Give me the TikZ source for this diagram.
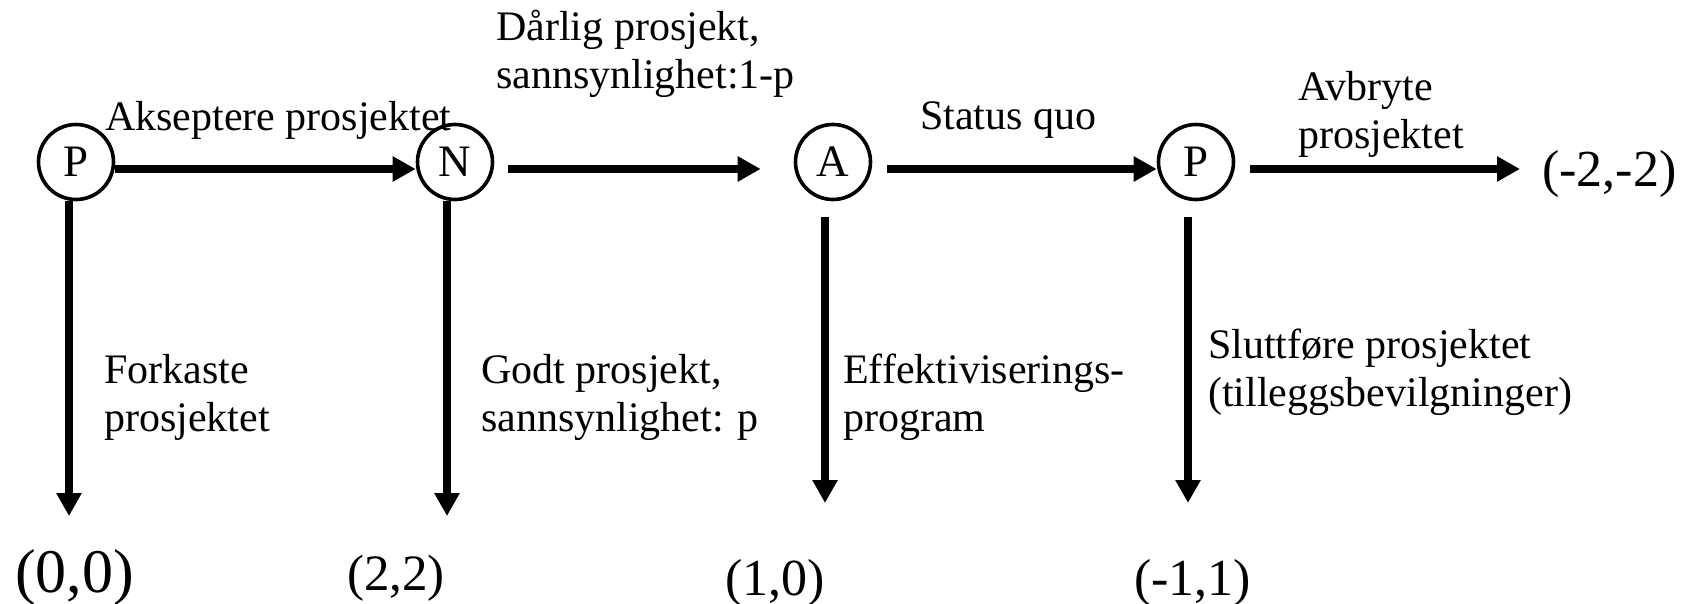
\documentclass[tikz,border=0pt]{standalone}
\usepackage{fontspec}
\setmainfont{Liberation Serif}
\usetikzlibrary{arrows.meta}
\begin{document}
\begin{tikzpicture}[x=1pt,y=-1pt,
  dec/.style={circle,draw,line width=3.6pt,minimum size=75pt,inner sep=0pt,font=\fontsize{45}{45}\selectfont},
  arr/.style={line width=7.5pt,-{Triangle[length=23pt,width=24pt]}},
  lbl/.style={anchor=base west,inner sep=0pt,align=left,font=\fontsize{42}{48}\selectfont},
  pay/.style={anchor=base west,inner sep=0pt}]
\useasboundingbox (0,0) rectangle (1690,604);
% decision nodes
\node[dec] (p1) at (76,162) {P};
\node[dec] (n) at (455,162) {N};
\node[dec] (a) at (833,162) {A};
\node[dec] (p2) at (1196,162) {P};
% payoffs
\node[pay,font=\fontsize{62}{62}\selectfont] (o1) at (15,592) {(0,0)};
\node[pay,font=\fontsize{51}{51}\selectfont] (o2) at (347,590) {(2,2)};
\node[pay,font=\fontsize{52}{52}\selectfont] (o3) at (725,595) {(1,0)};
\node[pay,font=\fontsize{52}{52}\selectfont] (o4) at (1134,595) {(-1,1)};
\node[pay,font=\fontsize{52}{52}\selectfont] (o5) at (1542,187) {(-2,-2)};
% arrow ends
\coordinate (e1) at (69,516);
\coordinate (e2) at (447,516);
\coordinate (e3) at (825,503);
\coordinate (e4) at (1188,503);
\coordinate (e5) at (1520,169);
% horizontal arrows
\draw[arr] ([yshift=-7pt]p1.east) -- ([yshift=-7pt]n.west);
\draw[arr] ([xshift=14pt,yshift=-7pt]n.east) -- ([xshift=-33pt,yshift=-7pt]a.west);
\draw[arr] ([xshift=15pt,yshift=-7pt]a.east) -- ([yshift=-7pt]p2.west);
\draw[arr] ([xshift=15pt,yshift=-7pt]p2.east) -- (e5);
% vertical arrows
\draw[arr] ([xshift=-7pt]p1.south) -- (e1);
\draw[arr] ([xshift=-8pt]n.south) -- (e2);
\draw[arr] ([xshift=-8pt,yshift=-16pt]a.south) -- (e3);
\draw[arr] ([xshift=-8pt,yshift=-16pt]p2.south) -- (e4);
% labels (base = baseline of last line)
\node[lbl] (l1) at (105,131) {Akseptere prosjektet};
\node[lbl] (l2) at (496,89) {Dårlig prosjekt,\\sannsynlighet:1-p};
\node[lbl] (l3) at (920,130) {Status quo};
\node[lbl] (l4) at (1298,149) {Avbryte\\prosjektet};
\node[lbl] (l5) at (104,431) {Forkaste\\prosjektet};
\node[lbl] (l6) at (481,431) {Godt prosjekt,\\sannsynlighet: p};
\node[lbl] (l7) at (843,431) {Effektiviserings-\\program};
\node[lbl] (l8) at (1208,406) {Sluttføre prosjektet\\(tilleggsbevilgninger)};
\end{tikzpicture}
\end{document}
